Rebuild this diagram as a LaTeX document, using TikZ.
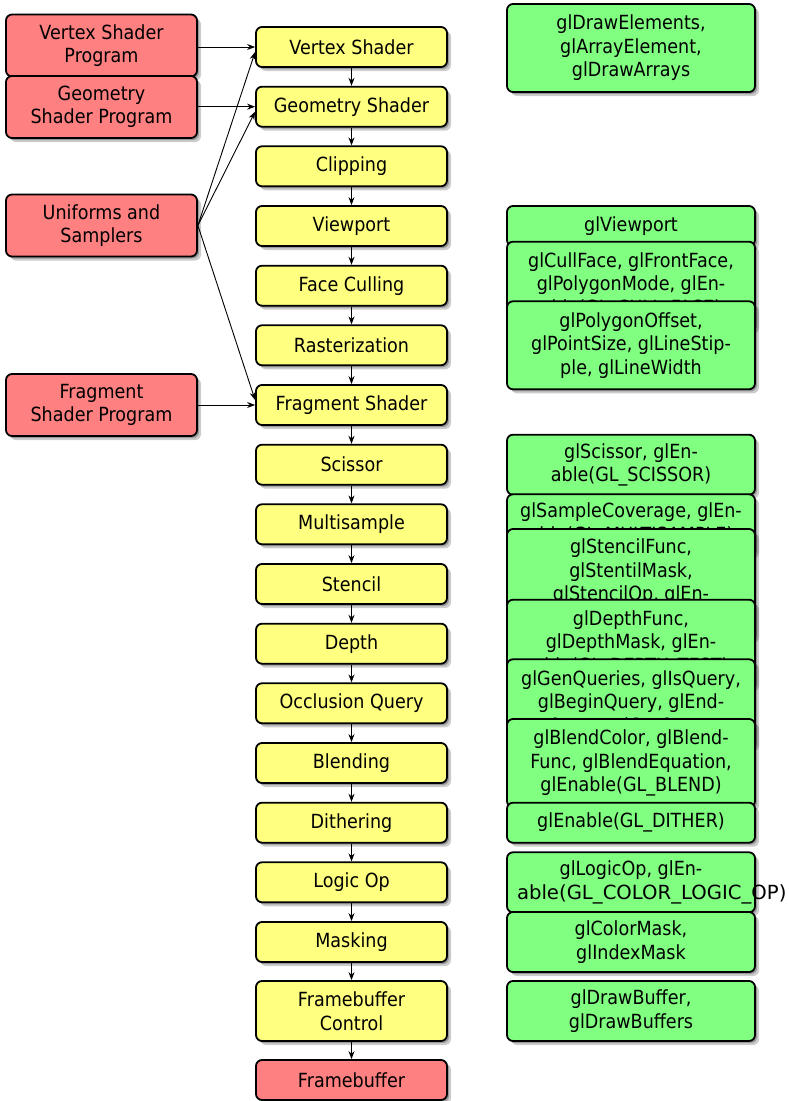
\documentclass[tikz,border=0pt]{standalone}
\usepackage{fontspec}
\usepackage{graphicx}
\setmainfont{DejaVu Sans}[FakeStretch=0.9]
\usetikzlibrary{shadows,arrows.meta}
\definecolor{stageyellow}{HTML}{FFFF80}
\definecolor{inputred}{HTML}{FF8080}
\definecolor{callgreen}{HTML}{80FF80}

\begin{document}
\begin{tikzpicture}[x=1pt,y=-1pt,
  box/.style={draw=black, line width=1.8pt, rounded corners=6pt, align=center,
    font=\fontsize{19.5}{23.5}\selectfont, inner xsep=4pt, inner ysep=2pt,
    drop shadow={shadow xshift=2pt, shadow yshift=-2pt, opacity=0.25, fill=black},
    drop shadow={shadow xshift=4pt, shadow yshift=-4pt, opacity=0.2, fill=black}},
  stage/.style={box, fill=stageyellow, minimum width=191pt, minimum height=40pt},
  tall/.style={minimum height=60pt},
  source/.style={box, fill=inputred, minimum width=191pt, minimum height=62pt},
  call/.style={box, fill=callgreen, minimum width=248pt, inner xsep=10pt},
  flow/.style={-{Stealth[length=8pt,width=6pt]}, line width=0.9pt},
]
\useasboundingbox (0,0) rectangle (788,1101);

% pipeline stages
\node[stage] (vs)    at (351.5,47)    {Vertex Shader};
\node[stage] (gs)    at (351.5,106.7) {Geometry Shader};
\node[stage] (clip)  at (351.5,166.3) {Clipping};
\node[stage] (vp)    at (351.5,226)   {Viewport};
\node[stage] (cull)  at (351.5,285.7) {Face Culling};
\node[stage] (rast)  at (351.5,345.3) {Rasterization};
\node[stage] (fs)    at (351.5,405)   {Fragment Shader};
\node[stage] (sciss) at (351.5,464.7) {Scissor};
\node[stage] (ms)    at (351.5,524.3) {Multisample};
\node[stage] (sten)  at (351.5,584)   {Stencil};
\node[stage] (dep)   at (351.5,643.7) {Depth};
\node[stage] (occ)   at (351.5,703.3) {Occlusion Query};
\node[stage] (blend) at (351.5,763)   {Blending};
\node[stage] (dith)  at (351.5,822.7) {Dithering};
\node[stage] (logic) at (351.5,882.3) {Logic Op};
\node[stage] (mask)  at (351.5,942)   {Masking};
\node[stage,tall] (fbc) at (351.5,1011) {Framebuffer\\Control};
\node[stage,fill=inputred] (fb) at (351.5,1080) {Framebuffer};

% program inputs
\node[source] (vsp) at (101.5,45.5)  {Vertex Shader\\Program};
\node[source] (gsp) at (101.5,107)   {Geometry\\Shader Program};
\node[source] (uni) at (101.5,225.5) {Uniforms and\\Samplers};
\node[source] (fsp) at (101.5,405)   {Fragment\\Shader Program};

% API calls per stage
\node[call,minimum height=88pt]  (g1)  at (631,48)    {glDrawElements,\\glArrayElement,\\glDrawArrays};
\node[call,minimum height=40pt]  (g2)  at (631,226)   {glViewport};
\node[call,minimum height=88pt]  (g3)  at (631,285.7) {glCullFace, glFrontFace,\\glPolygonMode, glEn-\\able(GL\_CULL\_FACE)};
\node[call,minimum height=88pt]  (g4)  at (631,345.3) {glPolygonOffset,\\glPointSize, glLineStip-\\ple, glLineWidth};
\node[call,minimum height=60pt]  (g5)  at (631,464.7) {glScissor, glEn-\\able(GL\_SCISSOR)};
\node[call,minimum height=60pt]  (g6)  at (631,524.3) {glSampleCoverage, glEn-\\able(GL\_MULTISAMPLE)};
\node[call,minimum height=110pt] (g7)  at (631,584)   {glStencilFunc,\\glStentilMask,\\glStencilOp, glEn-\\able(GL\_STENCIL\_TEST)};
\node[call,minimum height=88pt]  (g8)  at (631,643.7) {glDepthFunc,\\glDepthMask, glEn-\\able(GL\_DEPTH\_TEST)};
\node[call,minimum height=88pt]  (g9)  at (631,703.3) {glGenQueries, glIsQuery,\\glBeginQuery, glEnd-\\Query, glGetQuery};
\node[call,minimum height=88pt]  (g10) at (631,763)   {glBlendColor, glBlend-\\Func, glBlendEquation,\\glEnable(GL\_BLEND)};
\node[call,minimum height=40pt]  (g11) at (631,822.7) {glEnable(GL\_DITHER)};
% the second line is too long for the box and runs out past its right edge
\node[call,minimum height=60pt]  (g12) at (631,882.3) {glLogicOp, glEn-\\\makebox[228pt][l]{\scalebox{1.12}[1]{able(GL\_COLOR\_LOGIC\_OP)}}};
\node[call,minimum height=60pt]  (g13) at (631,942)   {glColorMask,\\glIndexMask};
\node[call,minimum height=60pt]  (g14) at (631,1011)  {glDrawBuffer,\\glDrawBuffers};

% pipeline flow
\foreach \a/\b in {vs/gs, gs/clip, clip/vp, vp/cull, cull/rast, rast/fs, fs/sciss,
  sciss/ms, ms/sten, sten/dep, dep/occ, occ/blend, blend/dith, dith/logic,
  logic/mask, mask/fbc, fbc/fb}
  \draw[flow] (\a) -- (\b);

% inputs into the shader stages
\draw[flow] (vs.west -| vsp.east) -- (vs.west);
\draw[flow] (gs.west -| gsp.east) -- (gs.west);
\draw[flow] (fs.west -| fsp.east) -- (fs.west);
\draw[flow] (uni.east) -- ([yshift=-5pt]vs.west);
\draw[flow] (uni.east) -- ([yshift=-5pt]gs.west);
\draw[flow] (uni.east) -- ([yshift=5pt]fs.west);
\end{tikzpicture}
\end{document}
